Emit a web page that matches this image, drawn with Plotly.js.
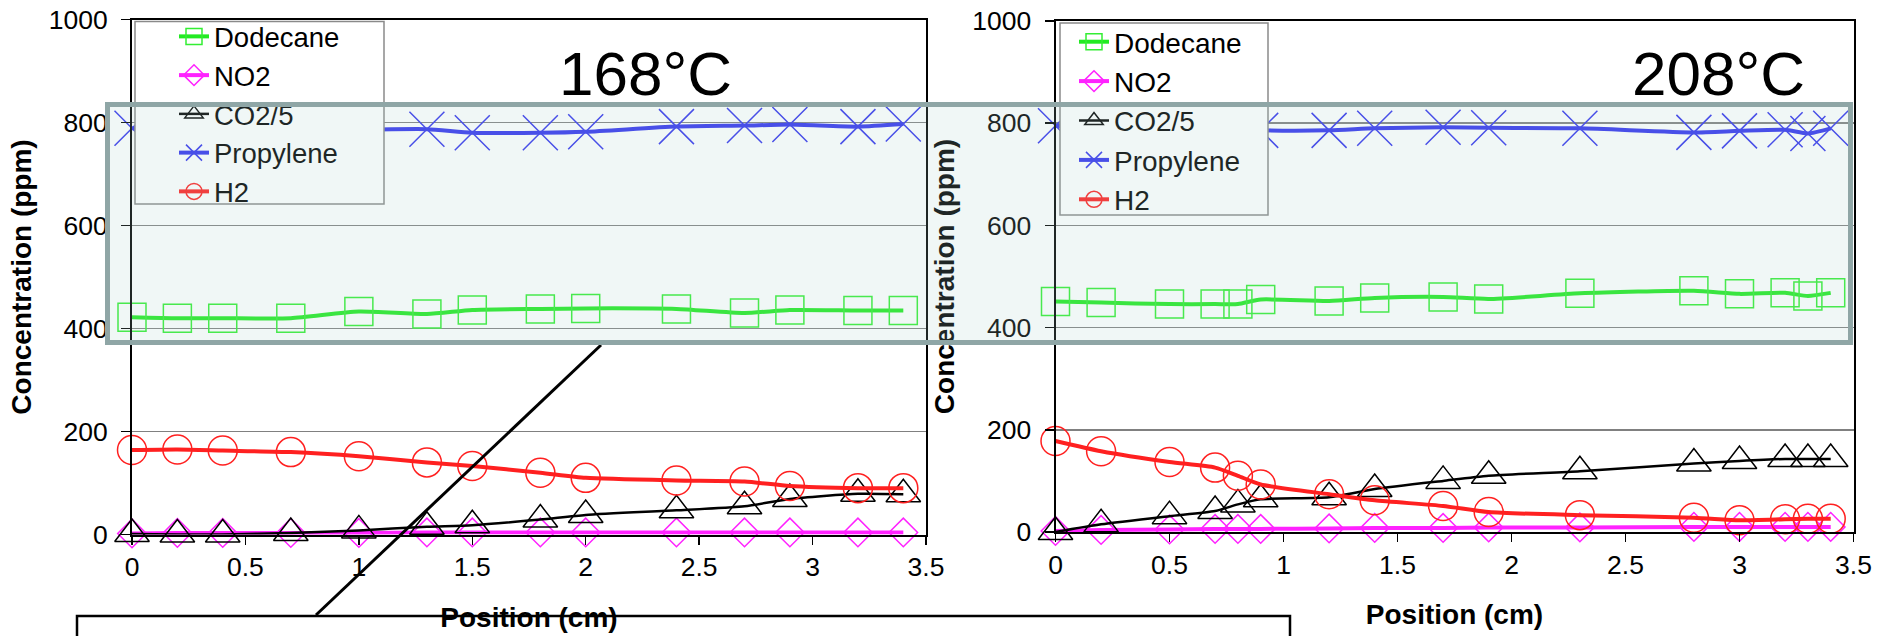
<!DOCTYPE html>
<html><head><meta charset="utf-8">
<script src="https://cdn.plot.ly/plotly-3.0.1.min.js"></script>
<style>html,body{margin:0;padding:0;background:#fff;}#chart{width:1878px;height:636px;}</style>
</head><body><div id="chart"></div>
<script>
// ---- data ----
const seriesNames = ['Dodecane', 'NO2', 'CO2/5', 'Propylene', 'H2'];

const positionLeft = [0, 0.2, 0.4, 0.7, 1.0, 1.3, 1.5, 1.8, 2.0, 2.4, 2.7, 2.9, 3.2, 3.4];
const dodecaneLeft  = [422, 420, 420, 420, 433, 428, 436, 438, 439, 438, 430, 436, 435, 435];
const no2Left       = [2, 3, 3, 3, 3, 4, 4, 4, 4, 4, 4, 4, 4, 4];
const co2Left       = [1, 0, 0, 3, 8, 15, 18, 29, 38, 47, 55, 69, 79, 78];
const propyleneLeft = [789, 786, 786, 786, 786, 787, 780, 780, 782, 792, 794, 796, 792, 797];
const h2Left        = [164, 165, 163, 160, 152, 140, 133, 120, 110, 105, 103, 94, 90, 90];

const positionRight = [0, 0.2, 0.5, 0.7, 0.8, 0.9, 1.2, 1.4, 1.7, 1.9, 2.3, 2.8, 3.0, 3.2, 3.3, 3.4];
const dodecaneRight  = [451, 449, 446, 446, 446, 455, 452, 458, 460, 456, 467, 472, 466, 468, 462, 468];
const no2Right       = [2, 4, 5, 6, 6, 6, 7, 8, 8, 9, 9, 10, 10, 10, 10, 10];
const co2Right       = [0, 15, 31, 41, 54, 64, 68, 84, 100, 110, 119, 134, 139, 143, 143, 143];
const propyleneRight = [795, 790, 786, 786, 788, 786, 786, 790, 792, 791, 790, 782, 785, 787, 780, 790];
const h2Right        = [178, 158, 137, 126, 110, 93, 74, 62, 51, 39, 33, 28, 23, 25, 26, 26];

const panelTitles = ['168°C', '208°C'];
const xTitle = 'Position (cm)';
const yTitle = 'Concentration (ppm)';

// ---- styling ----
const W = 1878, H = 636;
const px = v => v / W;
const py = v => 1 - v / H;
const FONT = 'Liberation Sans, Arial, sans-serif';

const styles = {
  'Dodecane':  {line: '#22ea22', mk: '#33ee33', symbol: 'square-open',      size: 28, lw: 4},
  'NO2':       {line: '#ff22ff', mk: '#ff22ff', symbol: 'diamond-open',     size: 22, lw: 4},
  'CO2/5':     {line: '#000000', mk: '#000000', symbol: 'triangle-up-open', size: 30, lw: 2.5},
  'Propylene': {line: '#3333ee', mk: '#3333ee', symbol: 'x-thin-open',      size: 35, lw: 4},
  'H2':        {line: '#ff2020', mk: '#ff2020', symbol: 'circle-open',      size: 29, lw: 4}
};

function mkTrace(name, xs, ys, xa, ya, legend) {
  const s = styles[name];
  return {
    type: 'scatter', mode: 'lines+markers', name: name,
    x: xs, y: ys, xaxis: xa, yaxis: ya, legend: legend, cliponaxis: false,
    line: {color: s.line, width: s.lw, shape: 'spline', smoothing: 0.6},
    marker: {symbol: s.symbol, size: s.size, color: s.mk, line: {color: s.mk, width: 1.5}},
    hoverinfo: 'x+y+name'
  };
}

const leftData = [dodecaneLeft, no2Left, co2Left, propyleneLeft, h2Left];
const rightData = [dodecaneRight, no2Right, co2Right, propyleneRight, h2Right];
const traces = [];
seriesNames.forEach((n, i) => traces.push(mkTrace(n, positionLeft, leftData[i], 'x', 'y', 'legend')));
seriesNames.forEach((n, i) => traces.push(mkTrace(n, positionRight, rightData[i], 'x2', 'y2', 'legend2')));

function xAxis(domain, anchor) {
  return {
    domain: domain, anchor: anchor, range: [0, 3.5], tick0: 0, dtick: 0.5,
    ticks: 'outside', ticklen: 8, tickwidth: 1.5, tickcolor: '#000',
    showline: true, linecolor: '#000', linewidth: 2, mirror: true,
    showgrid: false, zeroline: false, fixedrange: true,
    tickfont: {family: FONT, size: 26.5, color: '#000'},
    title: {text: xTitle, font: {family: FONT, size: 28, color: '#000', weight: 'bold'}, standoff: 26}
  };
}
function yAxis(domain, anchor) {
  return {
    domain: domain, anchor: anchor, range: [0, 1000], tick0: 0, dtick: 200,
    ticks: 'outside', ticklen: 9, tickwidth: 1.5, tickcolor: '#000',
    showline: true, linecolor: '#000', linewidth: 2, mirror: true,
    showgrid: true, gridcolor: '#808080', gridwidth: 1.5, zeroline: false, fixedrange: true,
    tickfont: {family: FONT, size: 26.5, color: '#000'},
    ticklabelstandoff: 8,
    title: {text: yTitle, font: {family: FONT, size: 28, color: '#000', weight: 'bold'}, standoff: 9}
  };
}

const legendCommon = {
  bgcolor: 'rgba(0,0,0,0)', borderwidth: 0, orientation: 'v',
  xanchor: 'left', yanchor: 'top', tracegroupgap: 0, traceorder: 'normal'
};

const layout = {
  width: W, height: H,
  margin: {l: 0, r: 0, t: 0, b: 0},
  paper_bgcolor: '#fff', plot_bgcolor: 'rgba(0,0,0,0)',
  font: {family: FONT, color: '#000'},
  xaxis: xAxis([px(132), px(926)], 'y'),
  yaxis: yAxis([py(534.5), py(19.5)], 'x'),
  xaxis2: xAxis([px(1055.5), px(1853.5)], 'y2'),
  yaxis2: yAxis([py(532), py(21)], 'x2'),
  showlegend: true,
  legend: Object.assign({}, legendCommon, {x: px(174), y: py(12), font: {family: FONT, size: 27.5, color: '#000'}}),
  legend2: Object.assign({}, legendCommon, {x: px(1074), y: py(17), font: {family: FONT, size: 28, color: '#000'}}),
  shapes: [
    // legend boxes
    {type: 'rect', layer: 'above', xref: 'paper', yref: 'paper', x0: px(135), x1: px(384), y0: py(204), y1: py(21.5),
     fillcolor: '#ffffff', line: {color: '#8a8a8a', width: 1.5}},
    {type: 'rect', layer: 'above', xref: 'paper', yref: 'paper', x0: px(1060), x1: px(1268), y0: py(215), y1: py(23),
     fillcolor: '#ffffff', line: {color: '#8a8a8a', width: 1.5}},
    // callout line and lower box
    {type: 'line', layer: 'above', xref: 'paper', yref: 'paper', x0: px(316), y0: py(615), x1: px(601), y1: py(345),
     line: {color: '#000', width: 3}},
    {type: 'rect', layer: 'above', xref: 'paper', yref: 'paper', x0: px(77), x1: px(1290), y0: py(646), y1: py(616),
     fillcolor: 'rgba(0,0,0,0)', line: {color: '#000', width: 2.5}}
  ],
  annotations: [
    {xref: 'paper', yref: 'paper', x: px(105), y: py(102), xanchor: 'left', yanchor: 'top',
     text: ' ', showarrow: false, width: 1738, height: 233, borderpad: 0, borderwidth: 5,
     bordercolor: '#8fa6a6', bgcolor: 'rgba(170,210,205,0.18)'},
    {xref: 'paper', yref: 'paper', x: px(645), y: py(73.5), xanchor: 'center', yanchor: 'middle',
     text: panelTitles[0], showarrow: false, font: {family: FONT, size: 62, color: '#000'}},
    {xref: 'paper', yref: 'paper', x: px(1718.5), y: py(73.5), xanchor: 'center', yanchor: 'middle',
     text: panelTitles[1], showarrow: false, font: {family: FONT, size: 62, color: '#000'}}
  ]
};

Plotly.newPlot('chart', traces, layout, {displayModeBar: false, staticPlot: true});
</script>
</body></html>
